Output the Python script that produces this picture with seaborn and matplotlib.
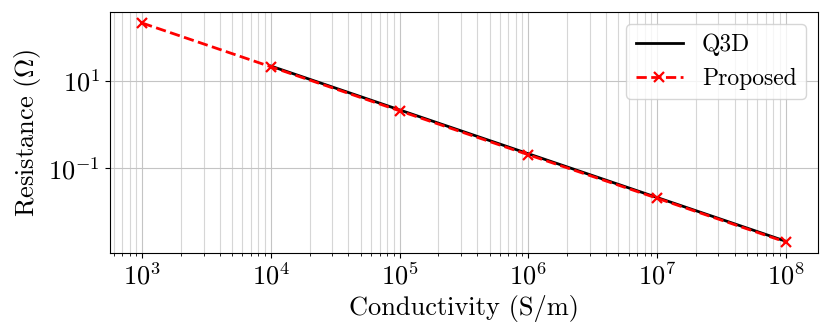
import matplotlib
matplotlib.use("Agg")
import matplotlib.pyplot as plt
import matplotlib.ticker as mticker
import seaborn as sns
import pandas as pd

# Data
q3d_sigma = [1e4, 1e5, 1e6, 1e7, 1e8]
q3d_res = [21.8, 2.17, 0.216, 0.0216, 0.00216]
prop_sigma = [1e3, 1e4, 1e5, 1e6, 1e7, 1e8]
prop_res = [210.0, 21.0, 2.07, 0.205, 0.0208, 0.00207]

plt.rcParams['font.family'] = 'serif'
plt.rcParams['font.serif'] = ['cmr10']
plt.rcParams['mathtext.fontset'] = 'cm'
plt.rcParams['axes.formatter.use_mathtext'] = True
plt.rcParams['axes.unicode_minus'] = True

df_q = pd.DataFrame({'sigma': q3d_sigma, 'R': q3d_res})
df_p = pd.DataFrame({'sigma': prop_sigma, 'R': prop_res})

fig = plt.figure(figsize=(8.3, 3.36), dpi=100)
ax = fig.add_axes([0.1325, 0.247, 0.853, 0.717])

sns.lineplot(data=df_q, x='sigma', y='R', color='black', linewidth=2,
             label='Q3D', ax=ax)
sns.lineplot(data=df_p, x='sigma', y='R', color='red', linewidth=2,
             linestyle='--', marker='x', markersize=7, markeredgewidth=1.6,
             markeredgecolor='red', label='Proposed', ax=ax)

ax.set_xscale('log')
ax.set_yscale('log')
ax.set_xticks([1e3, 1e4, 1e5, 1e6, 1e7, 1e8])
ax.xaxis.set_minor_locator(mticker.LogLocator(base=10, subs=range(2, 10), numticks=20))
ax.xaxis.set_minor_formatter(mticker.NullFormatter())
ax.set_yticks([1e-1, 1e1])
ax.yaxis.set_minor_locator(mticker.NullLocator())

ax.grid(True, which='major', color='#c4c4c4', linewidth=0.8)
ax.grid(True, which='minor', axis='x', color='#d6d6d6', linewidth=0.8)
ax.set_axisbelow(True)

ax.set_xlabel('Conductivity (S/m)', fontsize=19)
ax.set_ylabel(r'Resistance ($\Omega$)', fontsize=19)
ax.tick_params(axis='both', which='major', labelsize=19)

ax.legend(loc='upper right', fontsize=17, framealpha=0.8)

fig.savefig('out.png', dpi=100)
